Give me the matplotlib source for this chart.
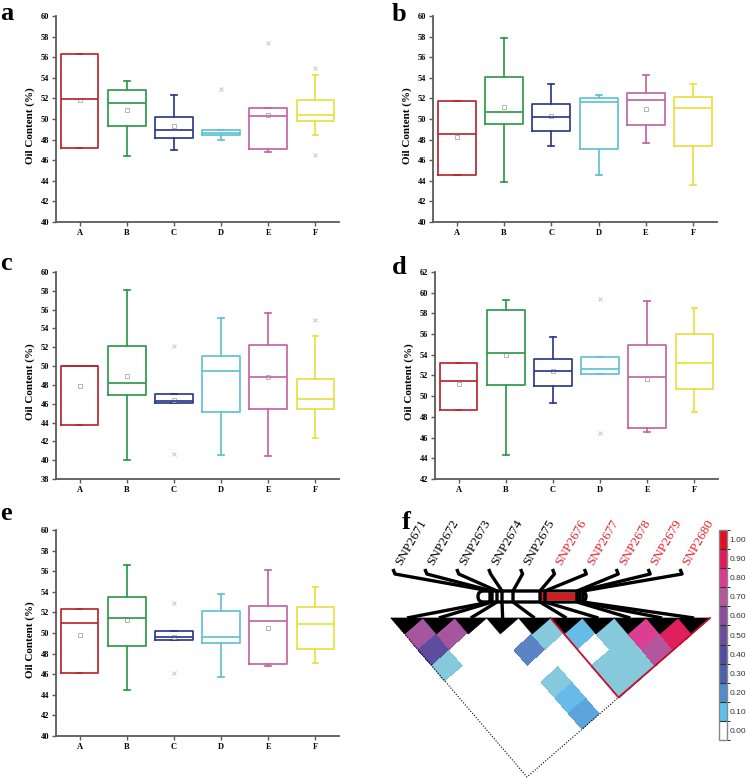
import numpy as np
import matplotlib
matplotlib.use('Agg')
import matplotlib.pyplot as plt
import matplotlib.cm as cm
from matplotlib.colors import ListedColormap, BoundaryNorm
from matplotlib.patches import FancyBboxPatch, Polygon, Rectangle

W, H = 746, 779
SERIF = ['Liberation Serif', 'DejaVu Serif']
SANS = ['Liberation Sans', 'DejaVu Sans']

groups = ['A', 'B', 'C', 'D', 'E', 'F']
box_colors = ['#B8282E', '#2F9A4A', '#2E3A8A', '#62C2D2', '#C266A2', '#E9E143']

# panel a
a_lo = [47.14, 46.37, 47.00, 47.98, 46.80, 48.47]
a_q1 = [47.14, 49.34, 48.17, 48.40, 47.04, 49.82]
a_med = [51.92, 51.53, 48.95, 48.60, 50.27, 50.37]
a_q3 = [56.28, 52.86, 50.24, 48.89, 51.10, 51.80]
a_hi = [56.28, 53.70, 52.34, 48.89, 51.10, 54.28]
a_mean = [51.80, 50.90, 49.34, None, 50.40, None]
a_out = [[], [], [], [52.90], [57.35], [55.00, 46.50]]

# panel b
b_lo = [44.59, 43.85, 47.40, 44.56, 47.63, 43.62]
b_q1 = [44.59, 49.50, 48.82, 47.11, 49.37, 47.40]
b_med = [48.50, 50.66, 50.18, 51.66, 51.83, 51.05]
b_q3 = [51.73, 54.05, 51.44, 52.02, 52.54, 52.18]
b_hi = [51.73, 57.84, 53.44, 52.34, 54.28, 53.40]
b_mean = [48.27, 51.20, 50.27, None, 51.00, None]
b_out = [[], [], [], [], [], []]

# panel c
c_lo = [43.78, 39.99, 46.05, 40.55, 40.45, 42.40]
c_q1 = [43.78, 46.94, 46.05, 45.17, 45.41, 45.45]
c_med = [49.99, 48.25, 46.34, 49.53, 48.79, 46.55]
c_q3 = [49.99, 52.16, 47.05, 51.09, 52.26, 48.64]
c_hi = [49.99, 58.08, 47.05, 55.10, 55.67, 53.15]
c_mean = [47.93, 49.00, 46.44, None, 48.80, None]
c_out = [[], [], [52.09, 40.62], [], [], [54.90]]

# panel d
d_lo = [48.71, 44.35, 49.39, 52.16, 46.55, 48.52]
d_q1 = [48.71, 51.10, 51.00, 52.16, 46.94, 50.68]
d_med = [51.45, 54.13, 52.48, 52.61, 51.81, 53.16]
d_q3 = [53.19, 58.35, 53.61, 53.74, 54.94, 56.03]
d_hi = [53.19, 59.26, 55.74, 53.74, 59.16, 58.48]
d_mean = [51.16, 53.94, 52.42, None, 51.65, None]
d_out = [[], [], [], [59.35, 46.45], [], []]

# panel e
e_lo = [46.12, 44.50, 49.32, 45.70, 46.83, 47.06]
e_q1 = [46.12, 48.71, 49.32, 49.00, 46.96, 48.41]
e_med = [50.94, 51.42, 49.64, 49.58, 51.20, 50.84]
e_q3 = [52.36, 53.46, 50.23, 52.17, 52.62, 52.49]
e_hi = [52.36, 56.60, 50.23, 53.82, 56.12, 54.43]
e_mean = [49.77, 51.23, 49.64, None, 50.45, None]
e_out = [[], [], [52.90, 46.08], [], [], []]

# panel f: LD (r^2) between SNP pairs
snp_names = ['SNP2671', 'SNP2672', 'SNP2673', 'SNP2674', 'SNP2675',
             'SNP2676', 'SNP2677', 'SNP2678', 'SNP2679', 'SNP2680']
snp_red = [False] * 5 + [True] * 5
snp_bar_pos = [490, 492, 497, 502, 513, 540, 545, 577, 580, 583]
ld_pairs = [(0, 1), (0, 2), (0, 3), (1, 2), (3, 5), (4, 5), (5, 6), (6, 7),
            (7, 8), (8, 9), (6, 8), (7, 9), (5, 8), (6, 9), (5, 9),
            (3, 7), (3, 8), (3, 9)]
ld_values = [0.65, 0.5, 0.05, 0.65, 0.3, 0.05, 0.1, 0.05,
             0.8, 0.9, 0.05, 0.7, 0.05, 0.05, 0.05,
             0.05, 0.1, 0.15]
ld_levels = [0.0, 0.05, 0.1, 0.15, 0.3, 0.5, 0.65, 0.7, 0.8, 0.9]
ld_cell_colors = ['#FFFFFF', '#86C8DC', '#66BBE8', '#5EA4DC', '#5A84C6',
                  '#5E4C9C', '#A6559F', '#B5559E', '#DA3F91', '#E0205D']
cbar_labels = ['0.00', '0.10', '0.20', '0.30', '0.40', '0.50',
               '0.60', '0.70', '0.80', '0.90', '1.00']
cbar_colors = ['#FFFFFF', '#5EBFEA', '#528CCB', '#4A62AB', '#4F4F9F',
               '#6A4C9C', '#8C4E9C', '#B7559C', '#DD3A8F', '#E01A5C', '#E0101F']


fig = plt.figure(figsize=(W / 100, H / 100), dpi=100)


def px_axes(x0, y0, x1, y1):
    return fig.add_axes([x0 / W, 1 - y1 / H, (x1 - x0) / W, (y1 - y0) / H])


def box_panel(box, lo, q1, med, q3, hi, mean, out, ylim):
    ax = px_axes(*box)
    stats = []
    for k in range(6):
        stats.append(dict(whislo=lo[k], q1=q1[k], med=med[k], q3=q3[k],
                          whishi=hi[k], fliers=out[k], label=groups[k]))
    art = ax.bxp(stats, positions=range(1, 7), widths=0.8, capwidths=0.12,
                 showfliers=True,
                 flierprops=dict(marker='x', markersize=2.5, markeredgewidth=0.6,
                                 markeredgecolor='#BDBDBD', linestyle='none'))
    for k, c in enumerate(box_colors):
        art['boxes'][k].set(color=c, linewidth=1.25)
        art['medians'][k].set(color=c, linewidth=1.25)
        for part in ('whiskers', 'caps'):
            for ln in art[part][2 * k:2 * k + 2]:
                ln.set(color=c, linewidth=1.25)
    for k, m in enumerate(mean):
        if m is not None:
            ax.plot(k + 1, m, 's', ms=2.6, mfc='none', mec='#A8A8A8', mew=0.6)
    ax.set_xlim(0.5, 6.5)
    ax.set_ylim(*ylim)
    ax.set_yticks(np.arange(ylim[0], ylim[1] + 0.1, 2))
    for s in ('top', 'right'):
        ax.spines[s].set_visible(False)
    for s in ('left', 'bottom'):
        ax.spines[s].set_color('#5A5A5A')
        ax.spines[s].set_linewidth(1.3)
    ax.tick_params(direction='out', length=3, width=1, color='#5A5A5A', pad=2)
    for t in ax.get_xticklabels() + ax.get_yticklabels():
        t.set_fontfamily(SERIF)
        t.set_fontweight('bold')
        t.set_fontsize(6)
    ax.set_ylabel('Oil Content (%)', fontfamily=SERIF, fontweight='bold', fontsize=8)
    ax.yaxis.set_label_coords(-0.074, 0.47)
    return ax


box_panel((56, 16, 339, 222), a_lo, a_q1, a_med, a_q3, a_hi, a_mean, a_out, (40, 60))
box_panel((433, 16, 717, 222), b_lo, b_q1, b_med, b_q3, b_hi, b_mean, b_out, (40, 60))
box_panel((56, 272, 339, 479), c_lo, c_q1, c_med, c_q3, c_hi, c_mean, c_out, (38, 60))
box_panel((435, 272, 718, 479), d_lo, d_q1, d_med, d_q3, d_hi, d_mean, d_out, (42, 62))
box_panel((56, 530, 339, 736), e_lo, e_q1, e_med, e_q3, e_hi, e_mean, e_out, (40, 60))

for letter, x, y in [('a', 0, 20), ('b', 392, 21), ('c', 0, 270),
                     ('d', 392, 274), ('e', 0, 520), ('f', 402, 529)]:
    fig.text(x / W, 1 - y / H, letter, fontsize=19, fontweight='bold',
             fontfamily=SERIF, va='baseline', ha='left')

# ---- panel f: LD triangle ----
axf = px_axes(370, 500, 746, 779)
axf.set_xlim(370, 746)
axf.set_ylim(779, 500)
axf.axis('off')


def ld_xy(a, b):
    return 391 + 18.3 * np.asarray(a) + 13.6 * np.asarray(b), \
        618 - 15.9 * np.asarray(a) + 15.9 * np.asarray(b)


n = len(snp_names)
ld = np.zeros((n, n))
for (i, j), v in zip(ld_pairs, ld_values):
    ld[i, j] = v
mask = np.tril(np.ones((n, n), dtype=bool))
ld = np.ma.masked_array(ld, mask)

A, B = np.meshgrid(np.arange(n + 1), np.arange(n + 1), indexing='ij')
X, Y = ld_xy(A, B)
bounds = [-0.01] + [(ld_levels[k] + ld_levels[k + 1]) / 2 for k in range(len(ld_levels) - 1)] + [1.01]
cell_cmap = ListedColormap(ld_cell_colors)
cell_norm = BoundaryNorm(bounds, cell_cmap.N)
axf.pcolormesh(X, Y, ld, cmap=cell_cmap, norm=cell_norm, edgecolors='none', zorder=1)

for i in range(n):
    tri = [ld_xy(i, i), ld_xy(i + 1, i + 1), ld_xy(i, i + 1)]
    axf.add_patch(Polygon(tri, closed=True, fc='black', ec='black', lw=0.5, zorder=3))

edge = np.array([ld_xy(0, 0), ld_xy(0, n), ld_xy(n, n)])
axf.plot(edge[:, 0], edge[:, 1], color='black', lw=0.8, ls=(0, (1, 1.5)), zorder=2)
blk = np.array([ld_xy(5, 5), ld_xy(5, n), ld_xy(n, n)])
axf.plot(blk[:, 0], blk[:, 1], color='#C8102E', lw=1.3, zorder=4)

# chromosome bar and connectors
axf.add_patch(FancyBboxPatch((478, 591), 108, 11, boxstyle='round,pad=0,rounding_size=5.5',
                             fc='white', ec='black', lw=2.4, zorder=5))
axf.add_patch(Rectangle((540, 593), 40, 7, fc='#D7191C', ec='none', zorder=6))
for i in range(n):
    mx, my = ld_xy(i + 0.5, i + 0.5)
    xl = mx - 14
    p = snp_bar_pos[i]
    axf.plot([xl, xl + 2, p, p], [569, 574, 591, 602], color='black', lw=2.4,
             solid_capstyle='butt', zorder=7)
    axf.plot([p, mx], [602, my], color='black', lw=2.4, solid_capstyle='butt', zorder=7)
    axf.text(xl + 11, 567, snp_names[i], rotation=60, rotation_mode='anchor',
             ha='left', va='bottom', fontfamily=SERIF, fontsize=9.5,
             color='#E0202A' if snp_red[i] else 'black')

# colour key
cax = px_axes(719, 530, 727, 740)
cb_cmap = ListedColormap(cbar_colors)
cb_norm = BoundaryNorm(np.arange(len(cbar_colors) + 1), cb_cmap.N)
cb = fig.colorbar(cm.ScalarMappable(norm=cb_norm, cmap=cb_cmap), cax=cax,
                  ticks=np.arange(len(cbar_colors)) + 0.5, drawedges=True)
cb.ax.set_yticklabels(cbar_labels)
cb.ax.tick_params(length=0, pad=2, labelsize=6, labelcolor='#333333')
for t in cb.ax.get_yticklabels():
    t.set_fontfamily(SANS)
cb.outline.set_edgecolor('#888888')
cb.outline.set_linewidth(1.0)
cb.dividers.set_color('#333333')
cb.dividers.set_linewidth(0.8)

fig.savefig('out.png', dpi=100)
